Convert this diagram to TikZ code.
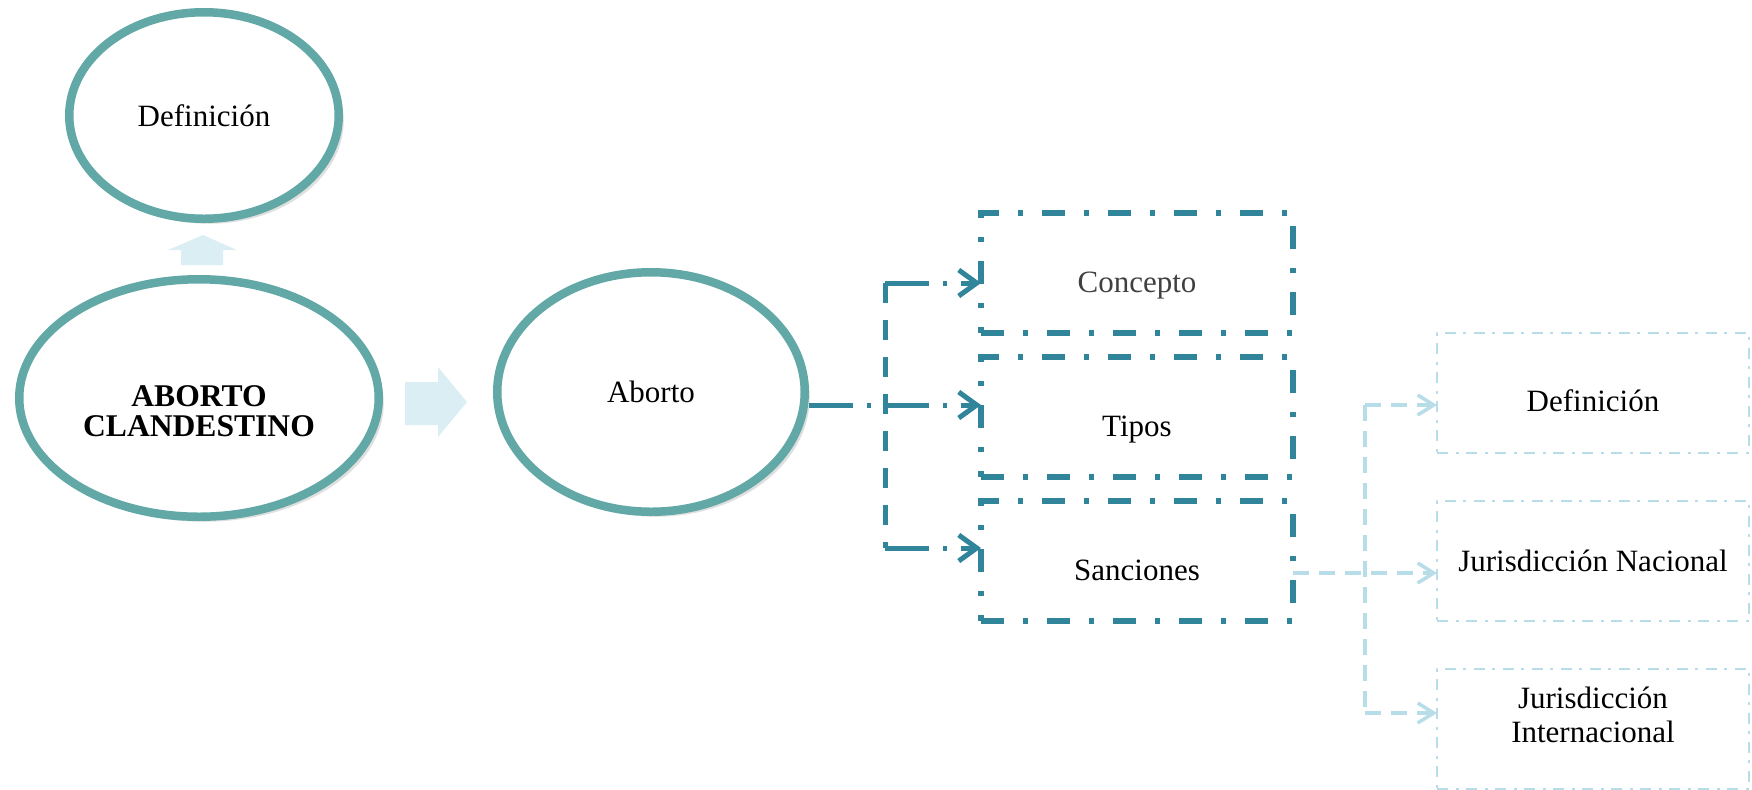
\documentclass[tikz,border=0pt]{standalone}
\usepackage{fontspec}
\setmainfont{Liberation Serif}
\usepackage{tikz}
\usetikzlibrary{arrows.meta, positioning, shapes.geometric, shadows}
\definecolor{ringteal}{RGB}{98,168,166}
\definecolor{boxblue}{RGB}{49,133,155}
\definecolor{paleblue}{RGB}{183,221,232}
\definecolor{blockfill}{RGB}{218,238,243}

\begin{document}
\begin{tikzpicture}[x=0.5pt, y=-0.5pt, font=\fontsize{15.5pt}{17pt}\selectfont,
    oval/.style={ellipse, draw=ringteal, line width=4.25pt, fill=white, inner sep=0pt, align=center,
      drop shadow={shadow xshift=2.5pt, shadow yshift=-2.5pt, opacity=0.25}},
    b/.style={draw=boxblue, line width=3pt, dash pattern=on 11.5pt off 9.5pt on 2.5pt off 9.5pt,
      minimum width=156pt, minimum height=60pt, inner sep=0pt, outer sep=0pt, align=center,
      text height=19.5pt, text depth=0pt},
    sb/.style={draw=paleblue, line width=1.25pt, dash pattern=on 5.5pt off 4pt on 1.5pt off 3.5pt,
      minimum width=156pt, minimum height=60pt, inner sep=0pt, outer sep=0pt, align=center},
    arr/.style={draw=boxblue, line width=2.5pt, dash pattern=on 22pt off 7pt on 2pt off 7pt,
      -{Straight Barb[length=9pt, width=13pt]}},
    trunk/.style={draw=boxblue, line width=2.5pt, dash pattern=on 10pt off 8.5pt},
    sarr/.style={draw=paleblue, line width=1.75pt, dash pattern=on 8pt off 5pt,
      -{Straight Barb[length=8pt, width=10pt]}},
    strunk/.style={draw=paleblue, line width=1.75pt, dash pattern=on 8pt off 5pt},
    blk/.style={fill=blockfill}]
    \useasboundingbox (0,0) rectangle (1752,789);

    % ovals
    \node[oval, minimum width=134.75pt, minimum height=103.25pt] (def) at (204,115.5) {Definición};
    \node[oval, minimum width=179.75pt, minimum height=118.75pt,
      font=\fontsize{15.8pt}{15pt}\selectfont\bfseries] (ac) at (199,398) {\mbox{}\\[9pt]ABORTO\\CLANDESTINO};
    \node[oval, minimum width=153.75pt, minimum height=119.75pt] (ab) at (651,392) {Aborto};

    % block arrows
    \fill[blk] (181,265) -- (181,250) -- (168,250) -- (203,235) -- (237,250) -- (223,250) -- (223,265) -- cycle;
    \fill[blk] (405,382) -- (438,382) -- (438,367) -- (467,402) -- (438,437) -- (438,425) -- (405,425) -- cycle;

    % first level
    \node[b, text=black!75] (con) at (1137,273) {Concepto};
    \node[b, below=12pt of con] (tip) {Tipos};
    \node[b, below=12pt of tip] (san) {Sanciones};

    % second level
    \node[sb, text height=18pt, text depth=0pt] (def2) at (1593,393) {Definición};
    \node[sb, below=24pt of def2] (jn) {Jurisdicción Nacional};
    \node[sb, below=24pt of jn] (ji) {Jurisdicción\\Internacional\\[-3pt]\mbox{}};

    \coordinate (fork) at (885,405);
    \draw[trunk] ([yshift=-5pt]con.west -| fork) -- ([yshift=6.5pt]san.west -| fork);
    \draw[arr] ([yshift=-6.5pt]ab.east) -- ([yshift=6pt]tip.west);
    \draw[arr] ([yshift=-5pt]con.west -| fork) -- ([yshift=-5pt]con.west);
    \draw[arr] ([yshift=6.5pt]san.west -| fork) -- ([yshift=6.5pt]san.west);

    \coordinate (sfork) at (1365,573);
    \draw[strunk] ([yshift=-6pt]def2.west -| sfork) -- ([yshift=8pt]ji.west -| sfork);
    \draw[sarr] ([yshift=-6pt]san.east) -- ([yshift=-6pt]jn.west);
    \draw[sarr] ([yshift=-6pt]def2.west -| sfork) -- ([yshift=-6pt]def2.west);
    \draw[sarr] ([yshift=8pt]ji.west -| sfork) -- ([yshift=8pt]ji.west);
\end{tikzpicture}
\end{document}
